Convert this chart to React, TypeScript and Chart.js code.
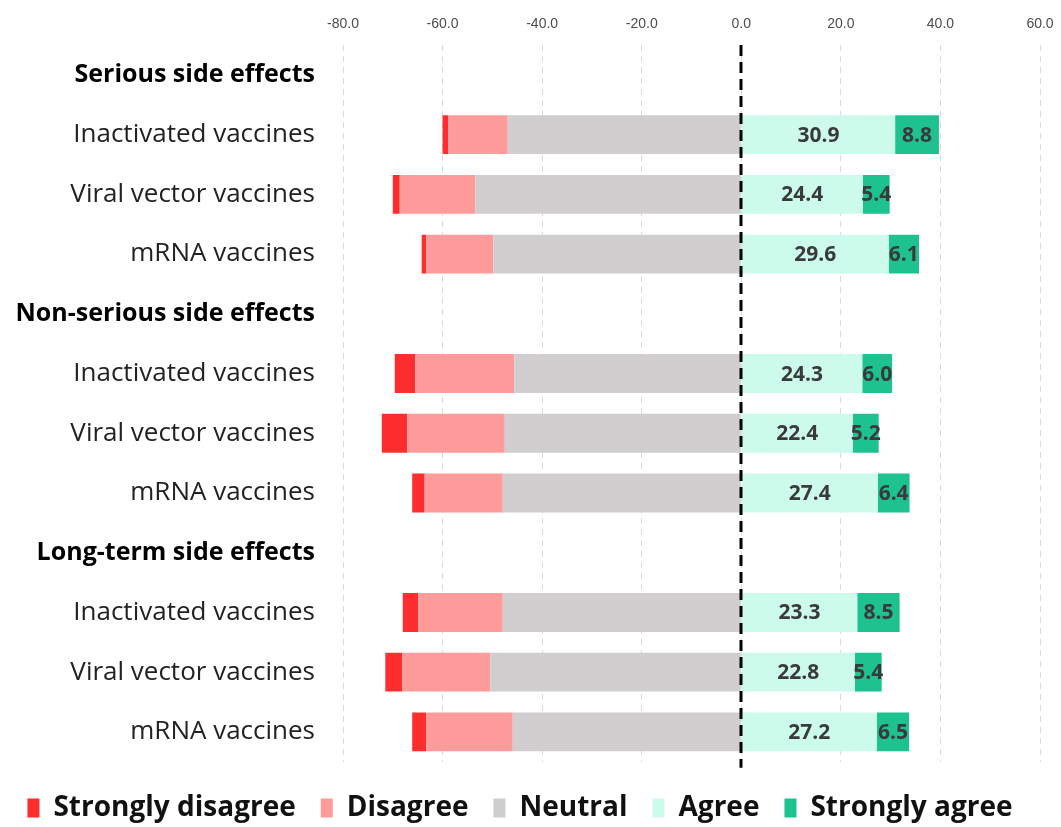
import React, { useEffect, useRef } from 'react';
import { Chart, registerables } from 'chart.js';

Chart.register(...registerables);

const categories = [
  'Serious side effects',
  'Inactivated vaccines',
  'Viral vector vaccines',
  'mRNA vaccines',
  'Non-serious side effects',
  'Inactivated vaccines',
  'Viral vector vaccines',
  'mRNA vaccines',
  'Long-term side effects',
  'Inactivated vaccines',
  'Viral vector vaccines',
  'mRNA vaccines',
];
const headerRows = [0, 4, 8];

const stronglyDisagree = [null, 1.1, 1.4, 0.9, null, 4.1, 5.1, 2.5, null, 3.1, 3.4, 2.8];
const disagree = [null, 12.0, 15.2, 13.5, null, 19.9, 19.6, 15.7, null, 17.0, 17.7, 17.4];
const neutral = [null, 46.9, 53.4, 49.8, null, 45.6, 47.5, 47.9, null, 47.9, 50.4, 45.9];
const agree = [null, 30.9, 24.4, 29.6, null, 24.3, 22.4, 27.4, null, 23.3, 22.8, 27.2];
const stronglyAgree = [null, 8.8, 5.4, 6.1, null, 6.0, 5.2, 6.4, null, 8.5, 5.4, 6.5];

const xMin = -80;
const xMax = 60;
const xStep = 20;

const seriesNames = ['Strongly disagree', 'Disagree', 'Neutral', 'Agree', 'Strongly agree'];
const seriesColors = ['#FF2E2E', '#FF9B9B', '#D0CECE', '#CCFBEC', '#1DC28F'];

const FONT = "'Open Sans', 'Noto Sans', sans-serif";

const neg = (arr: (number | null)[]) => arr.map((v) => (v == null ? null : -v));

const zeroLinePlugin = {
  id: 'zeroLine',
  afterDatasetsDraw(chart: any) {
    const { ctx, chartArea, scales } = chart;
    const x = Math.round(scales.x.getPixelForValue(0));
    ctx.save();
    ctx.strokeStyle = '#000000';
    ctx.lineWidth = 3;
    ctx.setLineDash([11, 6]);
    ctx.beginPath();
    ctx.moveTo(x, chartArea.top);
    ctx.lineTo(x, chartArea.bottom + 6);
    ctx.stroke();
    ctx.restore();
  },
};

const valueLabelPlugin = {
  id: 'valueLabels',
  afterDatasetsDraw(chart: any) {
    const { ctx } = chart;
    ctx.save();
    ctx.font = `bold 21px ${FONT}`;
    ctx.fillStyle = '#3A3A3A';
    ctx.textAlign = 'center';
    ctx.textBaseline = 'middle';
    [3, 4].forEach((di) => {
      const meta = chart.getDatasetMeta(di);
      const data = chart.data.datasets[di].data;
      meta.data.forEach((el: any, i: number) => {
        const v = data[i];
        if (v == null) return;
        const cx = (el.x + el.base) / 2;
        ctx.fillText(Number(v).toFixed(1), cx, el.y + 1);
      });
    });
    ctx.restore();
  },
};

export default function App() {
  const canvasRef = useRef<HTMLCanvasElement | null>(null);

  useEffect(() => {
    document.body.style.margin = '0';
    const canvas = canvasRef.current;
    if (!canvas) return;
    const rank = [2, 1, 0, 3, 4];
    const chart = new Chart(canvas, {
      type: 'bar',
      data: {
        labels: categories,
        datasets: [
          { label: seriesNames[2], data: neg(neutral), backgroundColor: seriesColors[2] },
          { label: seriesNames[1], data: neg(disagree), backgroundColor: seriesColors[1] },
          { label: seriesNames[0], data: neg(stronglyDisagree), backgroundColor: seriesColors[0] },
          { label: seriesNames[3], data: agree, backgroundColor: seriesColors[3] },
          { label: seriesNames[4], data: stronglyAgree, backgroundColor: seriesColors[4] },
        ] as any,
      },
      options: {
        indexAxis: 'y',
        responsive: false,
        animation: false,
        devicePixelRatio: 1,
        layout: { padding: { left: 0, right: 21, top: 0, bottom: -5 } },
        datasets: {
          bar: { categoryPercentage: 1, barPercentage: 0.65, borderWidth: 0 },
        },
        scales: {
          x: {
            type: 'linear',
            position: 'top',
            stacked: true,
            min: xMin,
            max: xMax,
            ticks: {
              stepSize: xStep,
              callback: (v: any) => Number(v).toFixed(1),
              font: { family: "'Liberation Sans', Arial, sans-serif", size: 14 },
              color: '#4D4D4D',
              padding: 12,
            },
            grid: { color: '#DADADA', lineWidth: 1, drawTicks: false },
            border: { display: false, dash: [6, 5] },
            afterFit: (scale: any) => {
              scale.height = 45;
              scale.paddingLeft = 0;
              scale.paddingRight = 0;
            },
          },
          y: {
            type: 'category',
            stacked: true,
            grid: { display: false, drawTicks: false },
            border: { display: false },
            ticks: {
              autoSkip: false,
              padding: 28,
              color: (ctx: any) => (headerRows.includes(ctx.index) ? '#000000' : '#222222'),
              font: (ctx: any) =>
                headerRows.includes(ctx.index)
                  ? { family: FONT, size: 25, weight: 'bold' }
                  : { family: FONT, size: 26, weight: 'normal' },
            },
            afterFit: (scale: any) => {
              scale.width = 343;
            },
          },
        },
        plugins: {
          legend: {
            position: 'bottom',
            title: { display: true, text: '', padding: { top: 6, bottom: 0 }, font: { size: 1 } },
            labels: {
              boxWidth: 12,
              boxHeight: 19,
              padding: 25,
              color: '#111111',
              font: { family: FONT, size: 28, weight: 'bold' },
              sort: (a: any, b: any) => rank[a.datasetIndex] - rank[b.datasetIndex],
            },
          },
          tooltip: { enabled: false },
        },
      } as any,
      plugins: [zeroLinePlugin, valueLabelPlugin],
    });
    return () => chart.destroy();
  }, []);

  return (
    <div style={{ width: 1061, height: 827 }}>
      <canvas ref={canvasRef} width={1061} height={827} />
    </div>
  );
}
